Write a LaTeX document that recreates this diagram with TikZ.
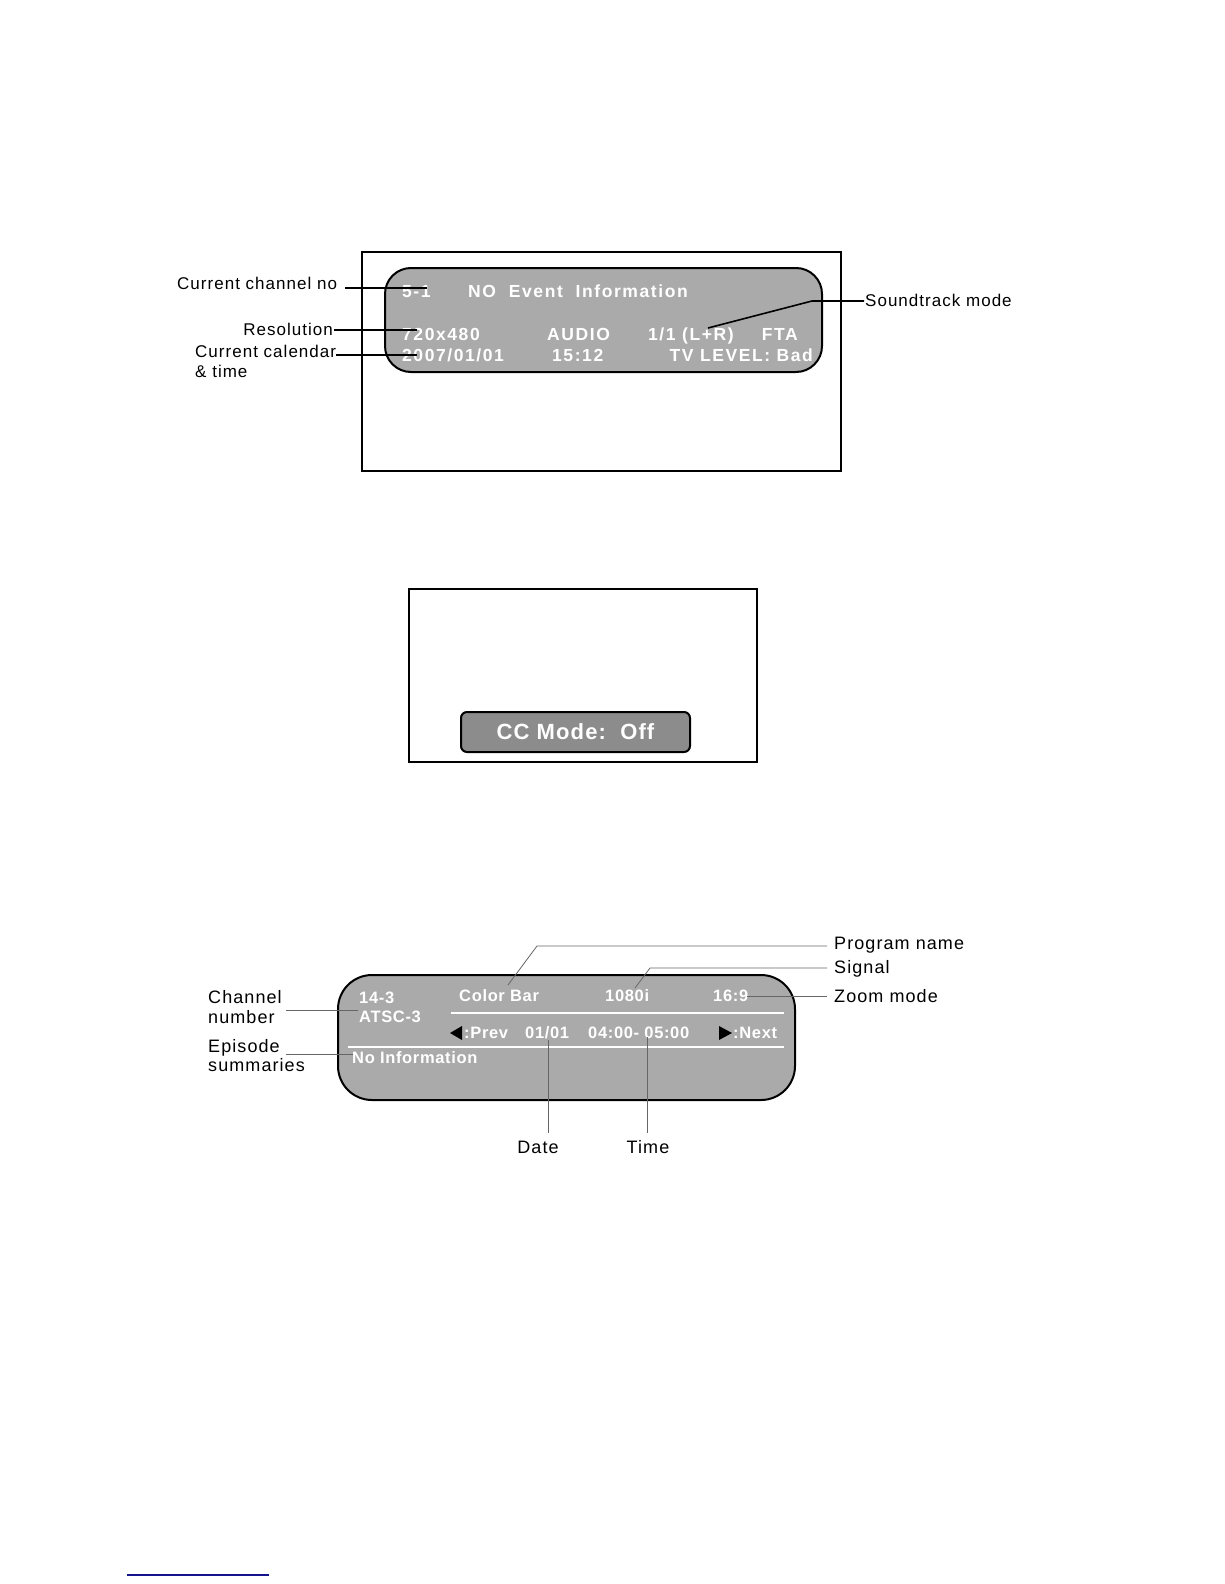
\documentclass[tikz,border=0pt]{standalone}
\usepackage{fontspec}
\setmainfont{Liberation Sans}
\newfontfamily\lblfont[LetterSpace=6]{Liberation Sans}
\newfontfamily\osdfont[LetterSpace=9]{Liberation Sans Bold}
\newfontfamily\guidefont[LetterSpace=4]{Liberation Sans Bold}
\newfontfamily\ccfont[LetterSpace=5]{Liberation Sans Bold}
\usepackage{tikz}
\usetikzlibrary{calc}

\definecolor{osdgray}{RGB}{170,170,170}
\definecolor{ccgray}{RGB}{140,140,140}
\definecolor{linkblue}{RGB}{20,20,140}

\begin{document}
\begin{tikzpicture}[
      x=1pt, y=-1pt,
      screen/.style={draw=black, line width=2pt},
      osd/.style={draw=black, line width=2pt, fill=osdgray, rounded corners=#1},
      osdtext/.style={text=white, font=\osdfont\fontsize{17.5}{20}\selectfont, anchor=base west, inner sep=0pt},
      smalltext/.style={osdtext, font=\guidefont\fontsize{16.5}{19}\selectfont},
      label/.style={font=\lblfont\fontsize{17}{20}\selectfont, anchor=base west, inner sep=0pt},
      biglabel/.style={label, font=\lblfont\fontsize{18}{21}\selectfont},
      leader/.style={draw=black, line width=1.6pt},
      thinleader/.style={draw=gray!80!black, line width=0.8pt},
      whiteline/.style={draw=white, line width=1.4pt},
      marker/.style={fill=black}
  ]
    \useasboundingbox (0,0) rectangle (1224,1584);

    % info banner
    \draw[screen] (362,252) rectangle (841,471);
    \draw[osd=26pt] (385,268) rectangle (822,372);
    \node[osdtext] (chno) at (402,297) {5-1};
    \node[osdtext] (event) at (468,297) {NO\ \ Event\ \ Information};
    \node[osdtext] (reso) at (402,340) {720x480};
    \node[osdtext] (audio) at (547,340) {AUDIO};
    \node[osdtext] (sound) at (648,340) {1/1 (L+R)};
    \node[osdtext, anchor=base east] (fta) at (798,340) {FTA};
    \node[osdtext] (date) at (402,361) {2007/01/01};
    \node[osdtext] (clock) at (552,361) {15:12};
    \node[osdtext, anchor=base east] (level) at (813,361) {TV LEVEL: Bad};

    \node[label] (lchno) at (177,289) {Current channel no};
    \node[label, anchor=base east] (lreso) at (333,335) {Resolution};
    \node[label] (lcal) at (195,357) {Current calendar};
    \node[label] (ltime) at (195,377) {\& time};
    \node[label] (lsound) at (865,306) {Soundtrack mode};

    \coordinate (pchno) at (427,288);
    \coordinate (preso) at (417,330);
    \coordinate (pcal) at (417,355);
    \coordinate (pbend) at (812,301);
    \coordinate (psound) at (708,328);
    \draw[leader] (lchno.base east) ++(8,-1) -- (pchno);
    \draw[leader] (lreso.base east) ++(1,-5) -- (preso);
    \draw[leader] (lcal.base east) ++(0,-2) -- (pcal);
    \draw[leader] (lsound.base west) ++(-1,-5) -- (pbend) -- (psound);

    % closed caption
    \draw[screen] (409,589) rectangle (757,762);
    \node[draw=black, line width=2pt, fill=ccgray, rounded corners=6pt,
          minimum width=229pt, minimum height=40pt, text=white,
          font=\ccfont\fontsize{22}{26}\selectfont] (ccmode) at (575.5,732) {CC Mode:\ \ Off};

    % program guide
    \draw[osd=34pt] (338,975) rectangle (795,1100);
    \node[smalltext] (chan) at (359,1003) {14-3};
    \node[smalltext] (atsc) at (359,1022) {ATSC-3};
    \node[smalltext] (prog) at (459,1001) {Color Bar};
    \node[smalltext] (signal) at (605,1001) {1080i};
    \node[smalltext] (zoom) at (713,1001) {16:9};
    \draw[whiteline] (451,1013) -- (784,1013);
    \fill[marker] (450,1033) -- (462,1026) -- (462,1040) -- cycle;
    \node[smalltext] (prev) at (464,1038) {:Prev};
    \node[smalltext] (day) at (525,1038) {01/01};
    \node[smalltext] (slot) at (588,1038) {04:00- 05:00};
    \fill[marker] (719,1026) -- (719,1040) -- (732,1033) -- cycle;
    \node[smalltext] (next) at (733,1038) {:Next};
    \draw[whiteline] (348,1047) -- (784,1047);
    \node[smalltext] (noinfo) at (352,1063) {No Information};

    \node[biglabel] (lchan) at (208,1003) {Channel};
    \node[biglabel] (lnum) at (208,1023) {number};
    \node[biglabel] (lepi) at (208,1052) {Episode};
    \node[biglabel] (lsum) at (208,1071) {summaries};
    \node[biglabel, anchor=base] (ldate) at (538,1153) {Date};
    \node[biglabel, anchor=base] (ltimel) at (648,1153) {Time};
    \node[biglabel] (lprog) at (834,949) {Program name};
    \node[biglabel] (lsig) at (834,973) {Signal};
    \node[biglabel] (lzoom) at (834,1002) {Zoom mode};

    \coordinate (pchan) at (358,1010);
    \coordinate (pinfo) at (353,1054);
    \coordinate (pday) at (548,1040);
    \coordinate (pslot) at (647,1037);
    \coordinate (pprog) at (537,946);
    \coordinate (pprogend) at (508,985);
    \coordinate (psig) at (650,968);
    \coordinate (psigend) at (635,988);
    \coordinate (pzoom) at (747,996);
    \draw[thinleader] (lchan.base east) ++(4,7) -- (pchan);
    \draw[thinleader] (lepi.base east) ++(6,2) -- (pinfo);
    \draw[thinleader] (pday) -- ($(pday |- ldate.north)+(0,-7)$);
    \draw[thinleader] (pslot) -- ($(pslot |- ltimel.north)+(0,-7)$);
    \draw[thinleader] (lprog.base west) ++(-7,-3) -- (pprog) -- (pprogend);
    \draw[thinleader] (lsig.base west) ++(-7,-5) -- (psig) -- (psigend);
    \draw[thinleader] (lzoom.base west) ++(-7,-6) -- (pzoom);

    % footer rule
    \draw[linkblue, line width=1.5pt] (127,1575) -- (269,1575);
  \end{tikzpicture}
\end{document}
